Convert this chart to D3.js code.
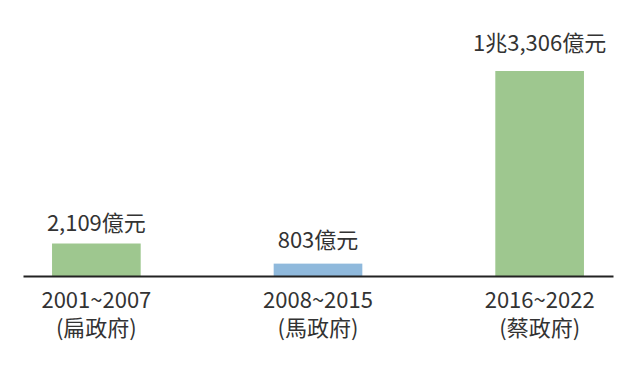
<!DOCTYPE html>
<html>
<head>
<meta charset="utf-8">
<script src="https://cdn.jsdelivr.net/npm/d3@7/dist/d3.min.js"></script>
<style>
  html, body { margin: 0; padding: 0; background: #fff; }
  svg { display: block; }
  text { font-family: "Noto Sans CJK TC", "Noto Sans", sans-serif; fill: #333; }
</style>
</head>
<body>
<svg id="chart" width="640" height="368"></svg>
<script>
// ---- data ----
const periods = ["2001~2007", "2008~2015", "2016~2022"];
const governments = ["(扁政府)", "(馬政府)", "(蔡政府)"];
const values = [2109, 803, 13306];           // 億元
const valueLabels = ["2,109億元", "803億元", "1兆3,306億元"];
const barColors = ["#9ec78f", "#8fb9dc", "#9ec78f"];

// ---- layout ----
const W = 640, H = 368;
const baseY = 276, topY = 71;
const labelGap = [12.5, 15.5, 20];

const svg = d3.select("#chart");

const x = d3.scaleBand()
  .domain(periods)
  .range([23, 613])
  .paddingInner(0.6)
  .paddingOuter(0.131);

const y = d3.scaleLinear()
  .domain([0, d3.max(values)])
  .range([baseY, topY]);

const data = periods.map((p, i) => ({ p, g: governments[i], v: values[i], lab: valueLabels[i], c: barColors[i], i }));

svg.selectAll("rect.bar")
  .data(data)
  .join("rect")
  .attr("class", "bar")
  .attr("x", d => x(d.p))
  .attr("width", x.bandwidth())
  .attr("y", d => y(d.v))
  .attr("height", d => baseY - y(d.v))
  .attr("fill", d => d.c);

// axis baseline
const axis = d3.axisBottom(x).tickSize(0).tickFormat("");
const gAxis = svg.append("g").attr("transform", `translate(0,${baseY})`).call(axis);
gAxis.select(".domain").attr("stroke", "#222").attr("stroke-width", 2);

// value labels
svg.selectAll("text.val")
  .data(data)
  .join("text")
  .attr("class", "val")
  .attr("x", d => x(d.p) + x.bandwidth() / 2)
  .attr("y", d => y(d.v) - labelGap[d.i])
  .attr("text-anchor", "middle")
  .attr("font-size", 22)
  .text(d => d.lab);

// category labels
const cat = svg.selectAll("g.cat")
  .data(data)
  .join("g")
  .attr("class", "cat")
  .attr("transform", d => `translate(${x(d.p) + x.bandwidth() / 2},0)`);

cat.append("text")
  .attr("y", 308.3)
  .attr("text-anchor", "middle")
  .attr("font-size", 22)
  .text(d => d.p);

cat.append("text")
  .attr("y", 336)
  .attr("text-anchor", "middle")
  .attr("font-size", 22)
  .text(d => d.g);
</script>
</body>
</html>
